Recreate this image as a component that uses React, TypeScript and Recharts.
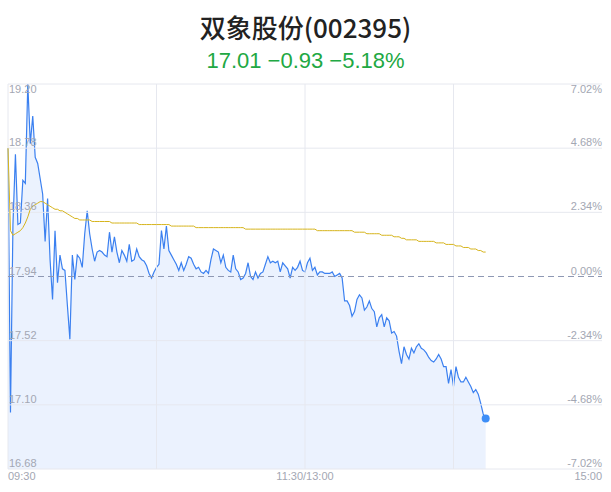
import React from "react";
import {
  ComposedChart,
  Area,
  Line,
  XAxis,
  YAxis,
  CartesianGrid,
  ReferenceLine,
  ReferenceDot,
} from "recharts";

// Title texts
const titleText = "双象股份(002395)";
const quoteText = "17.01 \u22120.93 \u22125.18%";

// Axis ticks
const priceTicks = [16.68, 17.1, 17.52, 17.94, 18.36, 18.78, 19.2];
const priceTickLabels = ["16.68", "17.10", "17.52", "17.94", "18.36", "18.78", "19.20"];
const pctTicks = [-7.02, -4.68, -2.34, 0, 2.34, 4.68, 7.02];
const pctTickLabels = ["-7.02%", "-4.68%", "-2.34%", "0.00%", "2.34%", "4.68%", "7.02%"];
const timeTicks = [0, 120, 240];
const timeTickLabels = ["09:30", "11:30/13:00", "15:00"];
const gridPrices = [16.68, 17.1, 17.52, 18.36, 18.78, 19.2];
const gridMinutes = [0, 60, 120, 180];
const prevClose = 17.94;

// Minute prices (index = minutes since 09:30, trading minutes)
const prices = [
  18.78, 17.05, 18.28, 18.74, 18.28, 18.29, 18.57, 18.55, 19.2, 18.81,
  18.99, 18.72, 18.68, 18.58, 18.48, 18.17, 18.45, 18.05, 17.79, 18.24,
  17.9, 18.08, 17.99, 17.98, 17.75, 17.53, 18.08, 17.92, 18.08, 18.06,
  18.0, 18.22, 18.37, 18.22, 18.12, 18.04, 18.1, 18.11, 18.1, 18.08,
  18.07, 18.23, 18.1, 18.2, 18.1, 18.03, 18.11, 18.08, 18.04, 18.15,
  18.04, 18.05, 18.12, 18.07, 18.05, 18.04, 18.01, 17.96, 17.93, 17.97,
  18.0, 18.02, 18.24, 18.12, 18.27, 18.11, 18.08, 18.05, 18.02, 17.98,
  18.03, 17.98, 18.02, 18.07, 18.06, 18.02, 17.99, 18.0, 17.97, 17.96,
  17.98, 17.96, 18.05, 18.12, 18.11, 18.1, 18.03, 18.08, 18.0, 17.98,
  17.97, 18.08, 17.99, 17.97, 17.92, 17.93, 17.96, 18.03, 17.94, 17.92,
  17.97, 17.93, 17.96, 17.97, 18.02, 18.07, 18.03, 18.04, 18.03, 18.04,
  17.97, 18.03, 18.01, 17.99, 17.93, 18.0, 17.98, 18.0, 18.04, 17.98,
  17.97, 18.03, 18.06, 17.98, 18.0, 17.95, 17.97, 17.97, 17.96, 17.96,
  17.96, 17.97, 17.94, 17.95, 17.96, 17.93, 17.78, 17.78, 17.75, 17.68,
  17.71, 17.79, 17.82, 17.8, 17.72, 17.74, 17.78, 17.73, 17.71, 17.61,
  17.67, 17.69, 17.61, 17.67, 17.65, 17.57, 17.58, 17.55, 17.45, 17.37,
  17.48, 17.43, 17.4, 17.47, 17.44, 17.48, 17.5, 17.47, 17.46, 17.44,
  17.41, 17.39, 17.38, 17.4, 17.43, 17.4, 17.35, 17.35, 17.24, 17.33,
  17.22, 17.35, 17.28, 17.25, 17.25, 17.28, 17.25, 17.22, 17.18, 17.2,
  17.17, 17.11, 17.04, 17.01,
];

// Average price line
const averages = [
  18.78, 18.24, 18.21, 18.22, 18.23, 18.24, 18.26, 18.29, 18.33, 18.38,
  18.4, 18.41, 18.42, 18.43, 18.43, 18.42, 18.41, 18.4, 18.39, 18.38,
  18.38, 18.37, 18.37, 18.36, 18.35, 18.34, 18.33, 18.32, 18.32, 18.31,
  18.31, 18.31, 18.31, 18.31, 18.3, 18.3, 18.3, 18.3, 18.3, 18.3,
  18.3, 18.3, 18.29, 18.29, 18.29, 18.29, 18.29, 18.29, 18.29, 18.29,
  18.29, 18.29, 18.29, 18.28, 18.28, 18.28, 18.28, 18.28, 18.28, 18.28,
  18.28, 18.28, 18.28, 18.28, 18.28, 18.28, 18.27, 18.27, 18.27, 18.27,
  18.27, 18.27, 18.27, 18.27, 18.27, 18.27, 18.26, 18.26, 18.26, 18.26,
  18.26, 18.26, 18.26, 18.26, 18.26, 18.26, 18.26, 18.26, 18.26, 18.26,
  18.26, 18.26, 18.26, 18.26, 18.26, 18.26, 18.25, 18.25, 18.25, 18.25,
  18.25, 18.25, 18.25, 18.25, 18.25, 18.25, 18.25, 18.25, 18.25, 18.25,
  18.25, 18.25, 18.25, 18.25, 18.25, 18.25, 18.25, 18.25, 18.25, 18.25,
  18.25, 18.25, 18.25, 18.25, 18.25, 18.24, 18.24, 18.24, 18.24, 18.24,
  18.24, 18.24, 18.24, 18.24, 18.24, 18.24, 18.24, 18.24, 18.24, 18.24,
  18.23, 18.23, 18.23, 18.23, 18.23, 18.22, 18.22, 18.22, 18.22, 18.22,
  18.22, 18.21, 18.21, 18.21, 18.21, 18.21, 18.2, 18.2, 18.2, 18.19,
  18.19, 18.18, 18.18, 18.18, 18.18, 18.18, 18.17, 18.17, 18.17, 18.17,
  18.17, 18.17, 18.17, 18.16, 18.16, 18.16, 18.16, 18.15, 18.15, 18.15,
  18.15, 18.14, 18.14, 18.14, 18.13, 18.13, 18.13, 18.12, 18.12, 18.12,
  18.11, 18.11, 18.1, 18.1,
];

const data = prices.map((p, i) => ({ m: i, price: p, avg: averages[i] }));
const last = data[data.length - 1];

const W = 611;
const H = 492;
const PLOT_LEFT = 8;
const PLOT_RIGHT = 602;
const PLOT_TOP = 84;
const PLOT_BOTTOM = 469;
const TICK_FONT = "'Liberation Sans', Arial, sans-serif";
const TICK_COLOR = "#a3a7b3";
const GRID_COLOR = "#e6e8ef";

const renderLeftTick = (props: any) => {
  const { y, payload } = props;
  const idx = priceTicks.indexOf(payload.value);
  const isTop = idx === priceTicks.length - 1;
  return (
    <text
      key={"l" + idx}
      x={PLOT_LEFT + 1}
      y={isTop ? y + 9 : y - 2}
      textAnchor="start"
      fontSize={11}
      fontFamily={TICK_FONT}
      fill={TICK_COLOR}
    >
      {priceTickLabels[idx]}
    </text>
  );
};

const renderRightTick = (props: any) => {
  const { y, payload } = props;
  const idx = pctTicks.indexOf(payload.value);
  const isTop = idx === pctTicks.length - 1;
  return (
    <text
      key={"r" + idx}
      x={PLOT_RIGHT}
      y={isTop ? y + 9 : y - 2}
      textAnchor="end"
      fontSize={11}
      fontFamily={TICK_FONT}
      fill={TICK_COLOR}
    >
      {pctTickLabels[idx]}
    </text>
  );
};

const renderTimeTick = (props: any) => {
  const { x, payload } = props;
  const idx = timeTicks.indexOf(payload.value);
  const anchor = idx === 0 ? "start" : idx === timeTicks.length - 1 ? "end" : "middle";
  return (
    <text
      key={"t" + idx}
      x={x}
      y={PLOT_BOTTOM + 11}
      textAnchor={anchor}
      fontSize={11}
      fontFamily={TICK_FONT}
      fill={TICK_COLOR}
    >
      {timeTickLabels[idx]}
    </text>
  );
};

export default function App() {
  return (
    <div
      style={{
        position: "absolute",
        left: 0,
        top: 0,
        width: W,
        height: H,
        background: "#ffffff",
        overflow: "hidden",
      }}
    >
      <div
        style={{
          position: "absolute",
          left: 0,
          top: 9,
          width: W,
          textAlign: "center",
          fontFamily: "'Noto Sans CJK SC', 'Noto Sans', sans-serif",
          fontSize: 26,
          fontWeight: 500,
          lineHeight: "36px",
          color: "#222222",
        }}
      >
        {titleText}
      </div>
      <div
        style={{
          position: "absolute",
          left: 0,
          top: 46,
          width: W,
          textAlign: "center",
          fontFamily: "'Liberation Sans', Arial, sans-serif",
          fontSize: 22,
          lineHeight: "30px",
          color: "#21a843",
        }}
      >
        {quoteText}
      </div>
      <div style={{ position: "absolute", left: 0, top: 0 }}>
        <ComposedChart
          width={W}
          height={H}
          data={data}
          margin={{ top: PLOT_TOP, right: W - PLOT_RIGHT - 1, bottom: H - PLOT_BOTTOM - 1, left: PLOT_LEFT - 1 }}
        >
          <XAxis
            xAxisId="t"
            dataKey="m"
            type="number"
            domain={[0, 240]}
            ticks={timeTicks}
            axisLine={false}
            tickLine={false}
            height={1}
            tick={renderTimeTick}
            interval={0}
          />
          <YAxis
            yAxisId="p"
            type="number"
            domain={[16.68, 19.2]}
            ticks={priceTicks}
            axisLine={false}
            tickLine={false}
            width={1}
            tick={renderLeftTick}
            interval={0}
            allowDataOverflow
          />
          <YAxis
            yAxisId="pct"
            orientation="right"
            type="number"
            domain={[-7.02, 7.02]}
            ticks={pctTicks}
            axisLine={false}
            tickLine={false}
            width={1}
            tick={renderRightTick}
            interval={0}
            allowDataOverflow
          />
          {gridPrices.map((v) => (
            <ReferenceLine
              key={"gy" + v}
              xAxisId="t"
              yAxisId="p"
              y={v}
              stroke={GRID_COLOR}
              strokeWidth={1}
            />
          ))}
          {gridMinutes.map((v) => (
            <ReferenceLine
              key={"gx" + v}
              xAxisId="t"
              yAxisId="p"
              x={v}
              stroke={GRID_COLOR}
              strokeWidth={1}
            />
          ))}
          <Area
            xAxisId="t"
            yAxisId="p"
            type="linear"
            dataKey="price"
            stroke="#3b80f0"
            strokeWidth={1.2}
            fill="#3b82f6"
            fillOpacity={0.1}
            baseValue={16.68}
            dot={false}
            activeDot={false}
            isAnimationActive={false}
          />
          <Line
            xAxisId="t"
            yAxisId="p"
            type="linear"
            dataKey="avg"
            stroke="#d6b41c"
            strokeWidth={1}
            dot={false}
            activeDot={false}
            isAnimationActive={false}
          />
          <ReferenceLine
            xAxisId="t"
            yAxisId="p"
            y={prevClose}
            stroke="#8e98b4"
            strokeWidth={1.2}
            strokeDasharray="6 4"
          />
          <ReferenceDot
            xAxisId="t"
            yAxisId="p"
            x={last.m}
            y={last.price}
            r={4}
            fill="#3d8ef7"
            stroke="none"
          />
        </ComposedChart>
      </div>
    </div>
  );
}
